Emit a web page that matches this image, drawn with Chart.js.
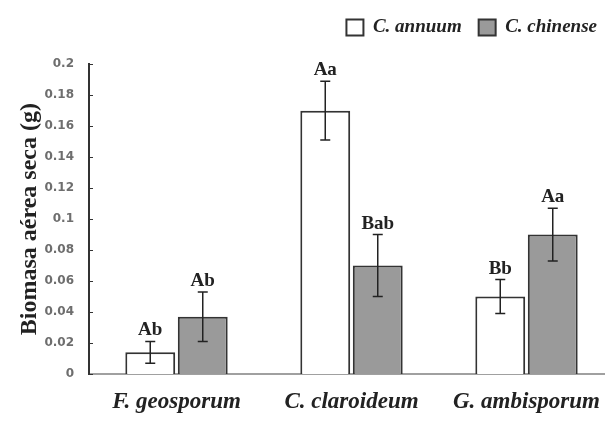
<!DOCTYPE html>
<html>
<head>
<meta charset="utf-8">
<script src="https://cdn.jsdelivr.net/npm/chart.js@4/dist/chart.umd.min.js"></script>
<style>
  html, body { margin: 0; padding: 0; background: #fff; overflow: hidden; }
  #wrap { width: 616px; height: 421px; }
</style>
</head>
<body>
<div id="wrap"><canvas id="biomasa" width="616" height="421"></canvas></div>
<script>
const hongos = ['F. geosporum', 'C. claroideum', 'G. ambisporum'];
const annuum = [0.014, 0.170, 0.050];
const chinense = [0.037, 0.070, 0.090];
const annuumErr = [0.007, 0.019, 0.011];
const chinenseErr = [0.016, 0.020, 0.017];
const annuumLetras = ['Ab', 'Aa', 'Bb'];
const chinenseLetras = ['Ab', 'Bab', 'Aa'];
const yTicks = [0, 0.02, 0.04, 0.06, 0.08, 0.1, 0.12, 0.14, 0.16, 0.18, 0.2];

const serif = '"Liberation Serif", "Times New Roman", serif';

// error bars + significance letters on top of each bar
const errorBars = {
  id: 'errorBars',
  afterDatasetsDraw(chart) {
    const ctx = chart.ctx;
    const y = chart.scales.y;
    const errs = [annuumErr, chinenseErr];
    const letras = [annuumLetras, chinenseLetras];
    ctx.save();
    ctx.strokeStyle = '#222';
    ctx.lineWidth = 1.5;
    chart.data.datasets.forEach((ds, i) => {
      chart.getDatasetMeta(i).data.forEach((bar, j) => {
        const v = ds.data[j];
        const top = y.getPixelForValue(v + errs[i][j]);
        const bot = y.getPixelForValue(v - errs[i][j]);
        ctx.beginPath();
        ctx.moveTo(bar.x, top); ctx.lineTo(bar.x, bot);
        ctx.moveTo(bar.x - 5, top); ctx.lineTo(bar.x + 5, top);
        ctx.moveTo(bar.x - 5, bot); ctx.lineTo(bar.x + 5, bot);
        ctx.stroke();
        ctx.fillStyle = '#222';
        ctx.font = 'bold 19px ' + serif;
        ctx.textAlign = 'center';
        ctx.textBaseline = 'alphabetic';
        ctx.fillText(letras[i][j], bar.x, top - 6);
      });
    });
    ctx.restore();
  }
};

// small tick marks on the inner side of the y axis
const yTickMarks = {
  id: 'yTickMarks',
  afterDraw(chart) {
    const ctx = chart.ctx;
    const y = chart.scales.y;
    const x0 = chart.chartArea.left;
    ctx.save();
    ctx.strokeStyle = '#333';
    ctx.lineWidth = 1;
    yTicks.forEach(t => {
      const py = Math.round(y.getPixelForValue(t)) + 0.5;
      ctx.beginPath();
      ctx.moveTo(x0, py); ctx.lineTo(x0 + 4, py);
      ctx.stroke();
    });
    ctx.restore();
  }
};

new Chart(document.getElementById('biomasa'), {
  type: 'bar',
  data: {
    labels: hongos,
    datasets: [{
      label: 'C. annuum',
      data: annuum,
      backgroundColor: '#ffffff',
      borderColor: '#333333',
      borderWidth: 2
    }, {
      label: 'C. chinense',
      data: chinense,
      backgroundColor: '#9a9a9a',
      borderColor: '#333333',
      borderWidth: 2
    }]
  },
  options: {
    responsive: false,
    animation: false,
    categoryPercentage: 0.6,
    barPercentage: 0.95,
    layout: { padding: { top: 1, right: 2, left: 0, bottom: 0 } },
    plugins: {
      tooltip: { enabled: false },
      legend: {
        position: 'top',
        align: 'end',
        labels: {
          color: '#222',
          font: { family: serif, size: 19, style: 'italic', weight: 'bold' },
          boxWidth: 17,
          boxHeight: 16,
          padding: 17
        }
      },
      // empty title used only as a gap between the legend and the plot
      title: {
        display: true,
        text: '',
        weight: 500,
        font: { size: 1 },
        padding: { top: 0, bottom: 16 }
      }
    },
    scales: {
      x: {
        grid: { display: false, drawTicks: false },
        border: { color: '#a0a0a0', width: 2 },
        ticks: {
          color: '#222',
          padding: 14,
          font: { family: serif, size: 23, style: 'italic', weight: 'bold' }
        },
        afterFit(scale) { scale.height = 47; }
      },
      y: {
        min: 0,
        max: 0.2,
        afterBuildTicks(scale) { scale.ticks = yTicks.map(v => ({ value: v })); },
        grid: { display: false, drawTicks: false },
        border: { color: '#333', width: 2 },
        ticks: {
          color: '#6e6e6e',
          padding: 15,
          font: { family: '"DejaVu Sans", Verdana, sans-serif', size: 12, weight: 'bold' },
          callback: v => String(Number(v.toFixed(2)))
        },
        title: {
          display: true,
          text: 'Biomasa aérea seca (g)',
          color: '#222',
          font: { family: serif, size: 24, weight: 'bold' },
          padding: { top: 15, bottom: 0 }
        },
        afterFit(scale) { scale.width = 89; }
      }
    }
  },
  plugins: [errorBars, yTickMarks]
});
</script>
</body>
</html>
